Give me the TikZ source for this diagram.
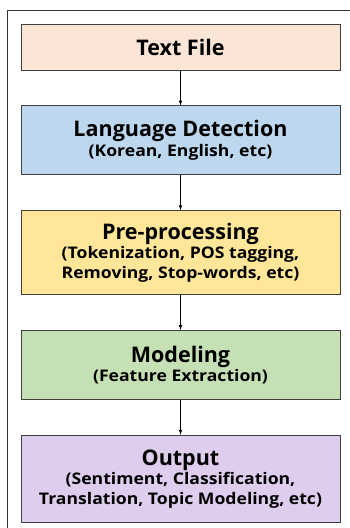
\documentclass[tikz,border=0pt]{standalone}
\usepackage{fontspec}
\setmainfont{Open Sans}
\newfontfamily\subfont{Open Sans}[FakeStretch=1.1]
\usetikzlibrary{shapes, arrows, positioning}

\definecolor{filepeach}{HTML}{FBE5D6}
\definecolor{langblue}{HTML}{BDD7EE}
\definecolor{preyellow}{HTML}{FFE699}
\definecolor{modgreen}{HTML}{C5E0B4}
\definecolor{outpurple}{HTML}{DFCDEE}

\tikzset{
    stagebox/.style={draw=black!75, line width=0.8pt, minimum width=319pt,
        align=center, font=\subfont\fontsize{16}{19.5}\selectfont\bfseries, inner sep=0pt},
}
\newcommand{\stagetitle}[1]{{\rmfamily\fontsize{21.5}{19.5}\selectfont\bfseries #1}}

\begin{document}
\begin{tikzpicture}[x=1pt, y=1pt, node distance=35pt]
    \useasboundingbox (0,0) rectangle (350,-528);
    \fill[white] (0,0) rectangle (350,-528);
    \clip (0,0) rectangle (350,-528);

    % Outer frame
    \draw[line width=0.8pt, black!80] (7,-10) rectangle (356,-540);

    % Text file
    \node[stagebox, fill=filepeach, minimum height=46pt] (file) at (180.5,-47)
        {\stagetitle{Text File}};

    % Language detection
    \node[stagebox, fill=langblue, minimum height=69pt, below=of file] (lang)
        {\stagetitle{Language Detection}\\
         (Korean, English, etc)};

    % Pre-processing
    \node[stagebox, fill=preyellow, minimum height=84pt, below=of lang] (prep)
        {\stagetitle{Pre-processing}\\
         (Tokenization, POS tagging,\\
         Removing, Stop-words, etc)};

    % Modeling
    \node[stagebox, fill=modgreen, minimum height=69pt, below=of prep] (model)
        {\stagetitle{Modeling}\\
         (Feature Extraction)};

    % Output
    \node[stagebox, fill=outpurple, minimum height=87pt, below=of model] (out)
        {\stagetitle{Output}\\
         (Sentiment, Classification,\\
         Translation, Topic Modeling, etc)};

    % Arrows
    \draw[->, >=latex, line width=0.7pt] (file) -- (lang);
    \draw[->, >=latex, line width=0.7pt] (lang) -- (prep);
    \draw[->, >=latex, line width=0.7pt] (prep) -- (model);
    \draw[->, >=latex, line width=0.7pt] (model) -- (out);
\end{tikzpicture}
\end{document}
